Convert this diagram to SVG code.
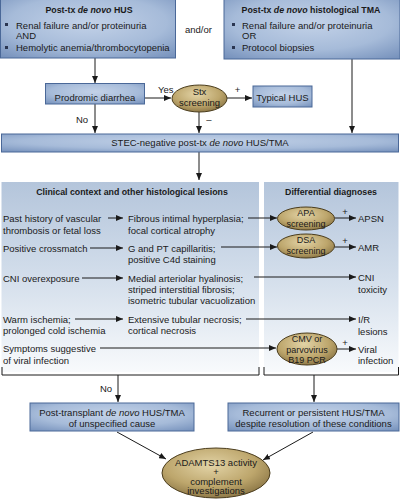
<svg xmlns="http://www.w3.org/2000/svg" width="400" height="502" viewBox="0 0 400 502">
<defs>
<radialGradient id="boxg" cx="0.5" cy="0.4" r="0.75">
<stop offset="0" stop-color="#c3d2e8"/>
<stop offset="0.6" stop-color="#a6bbd9"/>
<stop offset="1" stop-color="#7893bd"/>
</radialGradient>
<radialGradient id="ellg" cx="0.45" cy="0.35" r="0.7">
<stop offset="0" stop-color="#e2d3a6"/>
<stop offset="0.6" stop-color="#bda66c"/>
<stop offset="1" stop-color="#857041"/>
</radialGradient>
<linearGradient id="panelg" x1="0" y1="0" x2="0" y2="1">
<stop offset="0" stop-color="#b4c5db"/>
<stop offset="0.5" stop-color="#d3deeb"/>
<stop offset="1" stop-color="#f8fafc"/>
</linearGradient>
<marker id="ah" markerUnits="userSpaceOnUse" markerWidth="8" markerHeight="6" refX="7" refY="3" orient="auto">
<path d="M0,0 L7,3 L0,6 Z" fill="#1a1a1a"/>
</marker>
</defs>
<style>
text{font-family:"Liberation Sans",Arial,sans-serif;font-size:9.5px;fill:#1a1a1a}
.b{font-weight:bold;font-size:8.8px}
.m{text-anchor:middle}
.s{font-size:9px}
.box{fill:url(#boxg);stroke:#4a6898;stroke-width:1}
.ell{fill:url(#ellg);stroke:#4a3c1c;stroke-width:1}
.ln{stroke:#1a1a1a;stroke-width:1;fill:none}
.ar{stroke:#1a1a1a;stroke-width:1;fill:none;marker-end:url(#ah)}
.bul{fill:#2a3550}
</style>
<rect width="400" height="502" fill="#ffffff"/>

<g id="panels">
<rect x="1.5" y="182" width="257.5" height="190" fill="url(#panelg)"/>
<rect x="264" y="182" width="134.5" height="190" fill="url(#panelg)"/>
</g>

<g id="connectors">
<path class="ar" d="M95,58 V83"/>
<path class="ar" d="M144.5,98 H171"/>
<path class="ar" d="M227,98 H252"/>
<path class="ar" d="M199,112 V133"/>
<path class="ar" d="M95,104 V133"/>
<path class="ar" d="M352,59 V133"/>
<path class="ar" d="M199,152 V180"/>
<path class="ar" d="M108,218 H123"/>
<path class="ar" d="M90,248 H123"/>
<path class="ar" d="M82,278 H123"/>
<path class="ar" d="M75,319 H123"/>
<path class="ar" d="M248,218 H277"/>
<path class="ar" d="M221,247 H277"/>
<path class="ar" d="M254,277 H356"/>
<path class="ar" d="M246,319 H356"/>
<path class="ar" d="M100,348 H276"/>
<path class="ar" d="M334.5,218 H356"/>
<path class="ar" d="M334.5,247 H356"/>
<path class="ar" d="M337,349 H356"/>
<path class="ln" d="M2,367 V375 H259 V367"/>
<path class="ln" d="M264,367 V375 H398.5 V367"/>
<path class="ar" d="M118,375 V402"/>
<path class="ar" d="M314,375 V402"/>
<path class="ar" d="M117,432 L166,459"/>
<path class="ar" d="M313,432 L263,460"/>
</g>

<g id="n-posttx-hus">
<rect class="box" x="0.5" y="-1" width="175" height="59"/>
<text class="b m" x="89" y="13">Post-tx <tspan font-style="italic">de novo</tspan> HUS</text>
<rect class="bul" x="5" y="23" width="3" height="3"/>
<text x="16" y="28.5">Renal failure and/or proteinuria</text>
<text x="16" y="38.5">AND</text>
<rect class="bul" x="5" y="46" width="3" height="3"/>
<text x="16" y="51">Hemolytic anemia/thrombocytopenia</text>
</g>

<text id="andor" x="185" y="32.5">and/or</text>

<g id="n-posttx-tma">
<rect class="box" x="224" y="-1" width="176" height="60"/>
<text class="b m" x="311" y="13">Post-tx <tspan font-style="italic">de novo</tspan> histological TMA</text>
<rect class="bul" x="232" y="23" width="3" height="3"/>
<text x="242" y="28.5">Renal failure and/or proteinuria</text>
<text x="242" y="38.5">OR</text>
<rect class="bul" x="232" y="46" width="3" height="3"/>
<text x="242" y="51">Protocol biopsies</text>
</g>

<g id="n-prodromic">
<rect class="box" x="45.5" y="83.5" width="99" height="20.5"/>
<text class="m" x="95" y="100.5">Prodromic diarrhea</text>
</g>
<text x="158" y="92.5">Yes</text>

<g id="n-stx">
<ellipse class="ell" cx="199.5" cy="98.5" rx="27.5" ry="13.5"/>
<text class="m" x="199.5" y="95">Stx</text>
<text class="m" x="199.5" y="105.5">screening</text>
</g>
<text class="m" x="237.5" y="93">+</text>
<text class="m" x="209" y="123">–</text>
<text x="76" y="122.5">No</text>

<g id="n-typical">
<rect class="box" x="253" y="86" width="59" height="21"/>
<text class="m" x="282.5" y="100.5">Typical HUS</text>
</g>

<g id="n-stec">
<rect class="box" x="1.5" y="134" width="397" height="18"/>
<text class="m" x="200" y="146">STEC-negative post-tx <tspan font-style="italic">de novo</tspan> HUS/TMA</text>
</g>

<text class="b m" x="132" y="195">Clinical context and other histological lesions</text>
<text class="b m" x="331" y="195">Differential diagnoses</text>

<g id="n-past">
<text x="3" y="222">Past history of vascular</text>
<text x="3" y="233.5">thrombosis or fetal loss</text>
</g>
<g id="n-crossmatch"><text x="3" y="251.5">Positive crossmatch</text></g>
<g id="n-cni"><text x="3" y="281.5">CNI overexposure</text></g>
<g id="n-warm">
<text x="3" y="322.5">Warm ischemia;</text>
<text x="3" y="334">prolonged cold ischemia</text>
</g>
<g id="n-symptoms">
<text x="3" y="352">Symptoms suggestive</text>
<text x="3" y="363.5">of viral infection</text>
</g>

<g id="n-fibrous">
<text x="128" y="222">Fibrous intimal hyperplasia;</text>
<text x="128" y="233.5">focal cortical atrophy</text>
</g>
<g id="n-gpt">
<text x="128" y="251.5">G and PT capillaritis;</text>
<text x="128" y="263">positive C4d staining</text>
</g>
<g id="n-medial">
<text x="128" y="281.5">Medial arteriolar hyalinosis;</text>
<text x="128" y="292.5">striped interstitial fibrosis;</text>
<text x="128" y="303.5">isometric tubular vacuolization</text>
</g>
<g id="n-extensive">
<text x="128" y="322.5">Extensive tubular necrosis;</text>
<text x="128" y="334">cortical necrosis</text>
</g>

<g id="n-apa">
<ellipse class="ell" cx="306" cy="218.5" rx="28.5" ry="11.5"/>
<text class="m s" x="306" y="215.5">APA</text>
<text class="m s" x="306" y="226.5">screening</text>
</g>
<g id="n-dsa">
<ellipse class="ell" cx="306" cy="246" rx="28.5" ry="12"/>
<text class="m s" x="306" y="243">DSA</text>
<text class="m s" x="306" y="254">screening</text>
</g>
<g id="n-cmv">
<ellipse class="ell" cx="307" cy="349" rx="30" ry="16"/>
<text class="m s" x="307" y="341.5">CMV or</text>
<text class="m s" x="307" y="352.5">parvovirus</text>
<text class="m s" x="307" y="363">B19 PCR</text>
</g>
<text class="m" x="345" y="215">+</text>
<text class="m" x="345" y="244">+</text>
<text class="m" x="345" y="346">+</text>

<g id="n-apsn"><text x="358" y="222">APSN</text></g>
<g id="n-amr"><text x="358" y="251">AMR</text></g>
<g id="n-cnitox">
<text x="358" y="281">CNI</text>
<text x="358" y="293">toxicity</text>
</g>
<g id="n-ir">
<text x="358" y="323">I/R</text>
<text x="358" y="334.5">lesions</text>
</g>
<g id="n-viral">
<text x="358" y="352.5">Viral</text>
<text x="358" y="364">infection</text>
</g>

<text x="100" y="392">No</text>

<g id="n-unspecified">
<rect class="box" x="30" y="403" width="164" height="28"/>
<text class="m" x="112" y="415.5">Post-transplant <tspan font-style="italic">de novo</tspan> HUS/TMA</text>
<text class="m" x="112" y="427">of unspecified cause</text>
</g>
<g id="n-recurrent">
<rect class="box" x="228" y="403" width="171" height="28"/>
<text class="m" x="313.5" y="415.5">Recurrent or persistent HUS/TMA</text>
<text class="m" x="313.5" y="427">despite resolution of these conditions</text>
</g>

<g id="n-adamts">
<ellipse class="ell" cx="216" cy="473" rx="54" ry="25"/>
<text class="m" x="216" y="465.5">ADAMTS13 activity</text>
<text class="m" x="216" y="475">+</text>
<text class="m" x="216" y="484.5">complement</text>
<text class="m" x="216" y="494">investigations</text>
</g>
</svg>
